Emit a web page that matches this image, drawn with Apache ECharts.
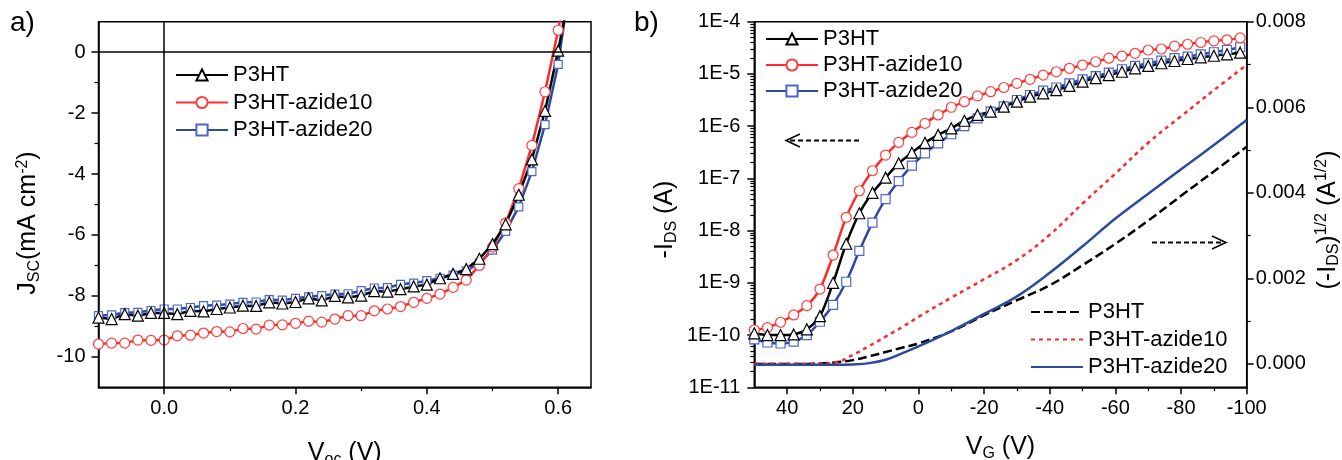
<!DOCTYPE html>
<html><head><meta charset="utf-8">
<script src="https://cdn.jsdelivr.net/npm/echarts@6/dist/echarts.min.js"></script>
<style>html,body{margin:0;padding:0;background:#fff}#c{width:1342px;height:460px}</style>
</head><body><div id="c"></div>
<script>
// ---------- Panel a) J-V data ----------
const jvV = [-0.10,-0.08,-0.06,-0.04,-0.02,0.00,0.02,0.04,0.06,0.08,0.10,0.12,0.14,0.16,0.18,0.20,0.22,0.24,0.26,0.28,0.30,0.32,0.34,0.36,0.38,0.40,0.42,0.44,0.46,0.48,0.50,0.52,0.54,0.56,0.58,0.60,0.61];
const jvP3HT = [-8.71,-8.76,-8.60,-8.65,-8.56,-8.56,-8.60,-8.49,-8.51,-8.43,-8.38,-8.32,-8.33,-8.21,-8.25,-8.20,-8.08,-8.15,-8.00,-8.05,-7.99,-7.84,-7.86,-7.78,-7.69,-7.63,-7.42,-7.28,-7.12,-6.78,-6.30,-5.65,-4.68,-3.52,-1.93,0.05,1.15];
const jvAzide10 = [-9.58,-9.55,-9.55,-9.45,-9.46,-9.45,-9.31,-9.29,-9.22,-9.17,-9.18,-9.07,-9.09,-8.96,-8.95,-8.90,-8.83,-8.86,-8.76,-8.65,-8.65,-8.49,-8.43,-8.35,-8.21,-8.08,-7.94,-7.72,-7.48,-7.00,-6.40,-5.61,-4.48,-3.06,-1.30,0.72,1.90];
const jvAzide20 = [-8.65,-8.62,-8.55,-8.54,-8.48,-8.43,-8.43,-8.38,-8.32,-8.30,-8.27,-8.21,-8.20,-8.12,-8.14,-8.08,-8.03,-7.99,-7.94,-7.93,-7.83,-7.74,-7.73,-7.62,-7.58,-7.50,-7.42,-7.32,-7.18,-6.92,-6.50,-5.88,-5.08,-3.92,-2.38,-0.40,1.10];
const jvXTicks = [0, 0.2, 0.4, 0.6];
const jvXMinor = [0.1, 0.3, 0.5];
const jvYTicks = [0, -2, -4, -6, -8, -10];
const jvYMinor = [-1, -3, -5, -7, -9];

// ---------- Panel b) transfer data ----------
const vgLog = [50,46,42,38,34,30,26,22,18,14,10,6,2,-2,-6,-10,-14,-18,-22,-26,-30,-34,-38,-42,-46,-50,-54,-58,-62,-66,-70,-74,-78,-82,-86,-90,-94,-98];
const idsP3HT = [1.08e-10,1.0e-10,1.0e-10,1.03e-10,1.29e-10,2.3e-10,1.0e-9,5.6e-9,2.15e-8,5.3e-8,1.03e-7,1.95e-7,3.1e-7,4.8e-7,6.8e-7,9.1e-7,1.27e-6,1.64e-6,1.9e-6,2.36e-6,2.94e-6,3.67e-6,4.25e-6,4.9e-6,5.9e-6,7.1e-6,8.3e-6,9.5e-6,1.1e-5,1.28e-5,1.42e-5,1.6e-5,1.77e-5,1.93e-5,2.08e-5,2.23e-5,2.37e-5,2.55e-5];
const idsAzide10 = [1.25e-10,1.39e-10,1.76e-10,2.43e-10,3.66e-10,7.6e-10,3.4e-9,1.8e-8,5.8e-8,1.4e-7,2.8e-7,4.9e-7,7.6e-7,1.13e-6,1.64e-6,2.3e-6,2.94e-6,3.8e-6,4.57e-6,5.5e-6,6.6e-6,7.9e-6,9.5e-6,1.1e-5,1.28e-5,1.48e-5,1.71e-5,2.0e-5,2.2e-5,2.48e-5,2.87e-5,3.0e-5,3.4e-5,3.7e-5,4.0e-5,4.3e-5,4.5e-5,4.9e-5];
const idsAzide20 = [8.3e-11,7.2e-11,6.9e-11,7.5e-11,1.0e-10,1.8e-10,3.8e-10,1.05e-9,4.1e-9,1.42e-8,4.0e-8,8.9e-8,1.75e-7,3.0e-7,4.7e-7,7.0e-7,1.0e-6,1.41e-6,1.9e-6,2.4e-6,3.17e-6,3.95e-6,4.8e-6,5.5e-6,6.6e-6,7.9e-6,9.1e-6,1.06e-5,1.23e-5,1.42e-5,1.6e-5,1.79e-5,2.0e-5,2.14e-5,2.37e-5,2.6e-5,2.87e-5,3.24e-5];
const vgSqrt = [50,40,30,25,20,15,10,5,0,-10,-20,-30,-40,-50,-60,-70,-80,-90,-100];
const sqrtP3HT = [0.0,0.0,0.00001,0.00004,0.00009,0.00018,0.00028,0.00038,0.00048,0.00076,0.00114,0.00149,0.00184,0.00231,0.00281,0.00335,0.00393,0.00450,0.00508];
const sqrtAzide10 = [0.000005,0.000005,0.00001,0.00004,0.00021,0.00042,0.00064,0.00086,0.00110,0.00155,0.00198,0.00243,0.00302,0.00375,0.00445,0.00517,0.00579,0.00640,0.00699];
const sqrtAzide20 = [-0.00002,-0.00002,-0.00002,-0.00002,-0.00001,0.00002,0.00010,0.00025,0.00041,0.00077,0.00117,0.00158,0.00213,0.00275,0.00340,0.00398,0.00455,0.00512,0.00570];
const vgTicks = [40, 20, 0, -20, -40, -60, -80, -100];
const vgMinor = [30, 10, -10, -30, -50, -70, -90];
const logMinorExp = [];
for (let n = -11; n < -4; n++) for (let k = 2; k <= 9; k++) logMinorExp.push(n + Math.log10(k));
const sqrtTicks = [0, 0.002, 0.004, 0.006, 0.008];
const sqrtMinor = [0.001, 0.003, 0.005, 0.007];

const labels = ['P3HT', 'P3HT-azide10', 'P3HT-azide20'];

// ---------- styling ----------
const FONT = '"Liberation Sans", Arial, sans-serif';
const BLACK = '#000000', RED = '#ff2a2a', BLUE = '#2e4a9e';
const RED_M = '#ff3d3d', BLUE_M = '#4c66c8';
const zip = (xs, ys) => xs.map((x, i) => [x, ys[i]]);
const rich = {
  sub: {fontSize: 16, fontFamily: FONT, color: '#000', padding: [12, 0, 0, 0]},
  sup: {fontSize: 16, fontFamily: FONT, color: '#000', padding: [0, 0, 12, 0]}
};
const nameStyle = (pad) => ({fontSize: 25, fontFamily: FONT, color: '#000', rich, padding: pad});
const axLine = {show: true, onZero: false, lineStyle: {color: '#000', width: 1.5}};
const noLine = {show: false, onZero: false};
const lbl = (extra) => Object.assign({color: '#000', fontSize: 20, fontFamily: FONT}, extra);
const majorTick = (vals) => ({show: true, length: 7, customValues: vals, lineStyle: {color: '#000', width: 1.5}});
const minorTickAxis = (vals) => ({show: true, length: 4, customValues: vals, lineStyle: {color: '#000', width: 1.2}});

const gridA = {left: 98.5, top: 21.7, width: 492.5, height: 365.6, show: true, borderColor: '#000', borderWidth: 1.5,
  backgroundColor: 'transparent', containLabel: false, outerBoundsMode: 'none'};
const gridB = {left: 754.3, top: 21.7, width: 492.4, height: 365.6, show: true, borderColor: '#000', borderWidth: 1.5,
  backgroundColor: 'transparent', containLabel: false, outerBoundsMode: 'none'};

const xAxes = [
  {gridIndex: 0, type: 'value', min: -0.1, max: 0.65, position: 'bottom',
   axisLine: axLine, axisTick: majorTick(jvXTicks), splitLine: {show: false},
   axisLabel: lbl({customValues: jvXTicks, margin: 11, formatter: v => v.toFixed(1)}),
   name: 'V{sub|oc} (V)', nameLocation: 'middle', nameGap: 52, nameTextStyle: nameStyle(0)},
  {gridIndex: 0, type: 'value', min: -0.1, max: 0.65, position: 'bottom',
   axisLine: noLine, axisTick: minorTickAxis(jvXMinor), axisLabel: {show: false}, splitLine: {show: false}},
  {gridIndex: 1, type: 'value', min: -100, max: 50, inverse: true, position: 'bottom',
   axisLine: axLine, axisTick: majorTick(vgTicks), splitLine: {show: false},
   axisLabel: lbl({customValues: vgTicks, margin: 11, formatter: v => String(Math.round(v))}),
   name: 'V{sub|G} (V)', nameLocation: 'middle', nameGap: 46, nameTextStyle: nameStyle(0)},
  {gridIndex: 1, type: 'value', min: -100, max: 50, inverse: true, position: 'bottom',
   axisLine: noLine, axisTick: minorTickAxis(vgMinor), axisLabel: {show: false}, splitLine: {show: false}}
];

const yAxes = [
  {gridIndex: 0, type: 'value', min: -11, max: 1, position: 'left',
   axisLine: axLine, axisTick: majorTick(jvYTicks), splitLine: {show: false},
   axisLabel: lbl({customValues: jvYTicks, margin: 13, formatter: v => String(Math.round(v))}),
   name: 'J{sub|SC}(mA cm{sup|-2})', nameLocation: 'middle', nameGap: 56, nameTextStyle: nameStyle([0, 37, 0, 0])},
  {gridIndex: 0, type: 'value', min: -11, max: 1, position: 'left', offset: 0,
   axisLine: noLine, axisTick: minorTickAxis(jvYMinor), axisLabel: {show: false}, splitLine: {show: false}},
  {gridIndex: 1, type: 'log', logBase: 10, min: 1e-11, max: 1e-4, interval: 1, splitNumber: 7, position: 'left', offset: 0,
   axisLine: axLine, axisTick: {show: true, length: 7, lineStyle: {color: '#000', width: 1.5}}, splitLine: {show: false},
   axisLabel: lbl({margin: 14, formatter: v => '1E' + Math.round(Math.log10(v))}),
   name: '-I{sub|DS} (A)', nameLocation: 'middle', nameGap: 75, nameTextStyle: nameStyle([0, 30, 0, 0])},
  {gridIndex: 1, type: 'value', min: -11, max: -4, position: 'left', offset: 0,
   axisLine: noLine, axisTick: minorTickAxis(logMinorExp), axisLabel: {show: false}, splitLine: {show: false}},
  {gridIndex: 1, type: 'value', min: -0.000545, max: 0.008, position: 'right', offset: 0,
   axisLine: axLine, axisTick: majorTick(sqrtTicks), splitLine: {show: false},
   axisLabel: lbl({customValues: sqrtTicks, margin: 9, formatter: v => v.toFixed(3)}),
   name: '(-I{sub|DS}){sup|1/2} (A{sup|1/2})', nameLocation: 'middle', nameGap: 67, nameTextStyle: nameStyle([0, 31, 0, 0])},
  {gridIndex: 1, type: 'value', min: -0.000545, max: 0.008, position: 'right', offset: 0,
   axisLine: noLine, axisTick: minorTickAxis(sqrtMinor), axisLabel: {show: false}, splitLine: {show: false}}
];

const markerSeries = (name, xi, yi, data, color, mcolor, symbol, size, lw, extra) => Object.assign({
  name, type: 'line', xAxisIndex: xi, yAxisIndex: yi, data, clip: true,
  symbol, symbolSize: size, showSymbol: true, animation: false,
  lineStyle: {color, width: lw},
  itemStyle: {color: '#ffffff', borderColor: mcolor, borderWidth: 1.2},
  emphasis: {disabled: true}
}, extra || {});

const lineSeries = (name, data, color, dash) => ({
  name, type: 'line', xAxisIndex: 2, yAxisIndex: 4, data, smooth: 0.4,
  symbol: 'none', animation: false, clip: true,
  lineStyle: {color, width: 2.5, type: dash}, itemStyle: {color},
  emphasis: {disabled: true}
});

const series = [
  markerSeries('a:' + labels[2], 0, 0, zip(jvV, jvAzide20), BLUE, BLUE_M, 'rect', 8, 2.5),
  markerSeries('a:' + labels[1], 0, 0, zip(jvV, jvAzide10), RED, RED_M, 'circle', 10, 2.5),
  markerSeries('a:' + labels[0], 0, 0, zip(jvV, jvP3HT), BLACK, BLACK, 'triangle', 11, 2.5, {
    markLine: {silent: true, symbol: 'none', label: {show: false}, animation: false,
      lineStyle: {color: '#000', width: 1.5, type: 'solid'},
      data: [{xAxis: 0}, {yAxis: 0}]}
  }),
  markerSeries('bl:' + labels[2], 2, 2, zip(vgLog, idsAzide20), BLUE, BLUE_M, 'rect', 9, 2.5, {smooth: 0.3}),
  markerSeries('bl:' + labels[1], 2, 2, zip(vgLog, idsAzide10), RED, RED_M, 'circle', 10, 2.5, {smooth: 0.3}),
  markerSeries('bl:' + labels[0], 2, 2, zip(vgLog, idsP3HT), BLACK, BLACK, 'triangle', 11, 2.5, {smooth: 0.3}),
  lineSeries('bs:' + labels[0], zip(vgSqrt, sqrtP3HT), BLACK, [9, 4]),
  lineSeries('bs:' + labels[1], zip(vgSqrt, sqrtAzide10), RED, [4, 4]),
  lineSeries('bs:' + labels[2], zip(vgSqrt, sqrtAzide20), BLUE, 'solid')
];

const legendBase = (prefix, left, top, gap, extra) => Object.assign({
  data: labels.map(l => prefix + l), orient: 'vertical', left, top, padding: 0,
  itemWidth: 52, itemHeight: 14, itemGap: gap, selectedMode: false,
  formatter: n => n.split(':')[1],
  textStyle: {fontSize: 22, fontFamily: FONT, color: '#000', lineHeight: 22}
}, extra || {});

const option = {
  backgroundColor: '#ffffff',
  animation: false,
  title: [
    {text: 'a)', left: 10, top: 9, padding: 0, textStyle: {fontSize: 28, fontWeight: 'normal', fontFamily: FONT, color: '#000'}},
    {text: 'b)', left: 634, top: 9, padding: 0, textStyle: {fontSize: 28, fontWeight: 'normal', fontFamily: FONT, color: '#000'}}
  ],
  grid: [gridA, gridB],
  xAxis: xAxes,
  yAxis: yAxes,
  legend: [
    legendBase('a:', 175, 64, 5.5),
    legendBase('bl:', 765, 28, 4),
    legendBase('bs:', 1030, 301, 5.5, {itemStyle: {opacity: 0}})
  ],
  graphic: [
    {type: 'polyline', silent: true, shape: {points: [[859, 140.5], [788, 140.5]]}, style: {stroke: '#000', lineWidth: 1.8, lineDash: [5, 3], fill: null}},
    {type: 'polyline', silent: true, shape: {points: [[800, 134], [786, 140.5], [800, 147]]}, style: {stroke: '#000', lineWidth: 1.5, fill: null}},
    {type: 'polyline', silent: true, shape: {points: [[1152, 242.5], [1224, 242.5]]}, style: {stroke: '#000', lineWidth: 1.8, lineDash: [5, 3], fill: null}},
    {type: 'polyline', silent: true, shape: {points: [[1212, 236], [1226, 242.5], [1212, 249]]}, style: {stroke: '#000', lineWidth: 1.5, fill: null}}
  ],
  series
};

const chart = echarts.init(document.getElementById('c'), null, {renderer: 'canvas'});
chart.setOption(option);
</script>
</body></html>
